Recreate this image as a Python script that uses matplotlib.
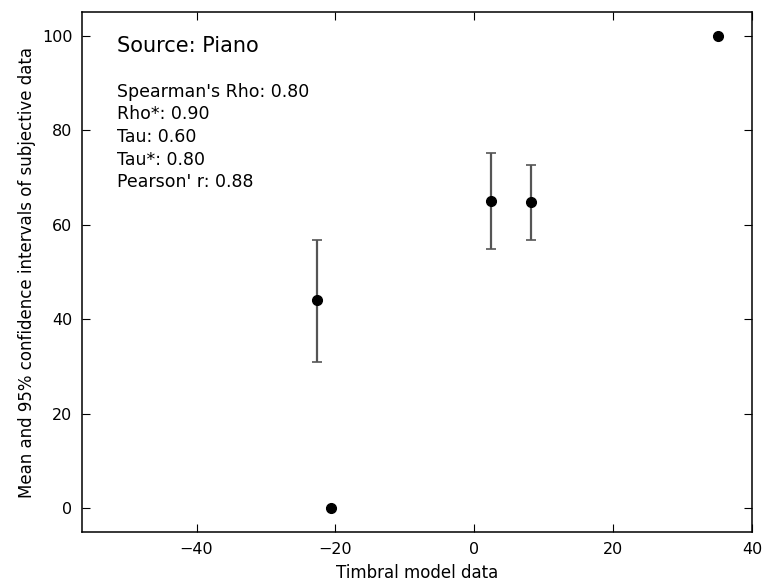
import matplotlib
matplotlib.use('Agg')
import matplotlib.pyplot as plt
import numpy as np

# timbral model data vs subjective means, with 95% CI bounds
model_x = [-22.6, -20.6, 2.4, 8.1, 35.1]
subj_mean = [44.0, 0.0, 65.1, 64.9, 100.0]
ci_low = [30.9, 0.0, 55.0, 56.9, 100.0]
ci_high = [56.9, 0.0, 75.2, 72.7, 100.0]

source = 'Source: Piano'
stats = ["Spearman's Rho: 0.80", "Rho*: 0.90", "Tau: 0.60", "Tau*: 0.80", "Pearson' r: 0.88"]

xticks = [-40, -20, 0, 20, 40]
yticks = [0, 20, 40, 60, 80, 100]

if __name__ == "__main__":

	fig = plt.figure(figsize=(7.62, 5.84), dpi=100)
	ax = fig.add_axes([0.1076, 0.089, 0.8794, 0.890])

	mean = np.array(subj_mean)
	yerr = [mean - np.array(ci_low), np.array(ci_high) - mean]

	# error bars first, then the black markers on top
	ax.errorbar(model_x, subj_mean, yerr=yerr, fmt='none', ecolor='#555555',
		elinewidth=1.6, capsize=3.5, capthick=1.2, zorder=2)
	ax.plot(model_x, subj_mean, 'o', color='black', markersize=7, zorder=3)

	ax.set_xlim(-56.5, 40)
	ax.set_ylim(-5, 105)
	ax.set_xticks(xticks)
	ax.set_yticks(yticks)
	ax.tick_params(direction='in', top=True, right=True, length=6, width=0.8,
		labelsize=11.5, pad=7)
	for s in ax.spines.values():
		s.set_linewidth(1.1)

	ax.set_xlabel('Timbral model data', fontsize=12, labelpad=5)
	ax.set_ylabel('Mean and 95% confidence intervals of subjective data', fontsize=12)

	# annotation block in upper left
	ax.text(-51.5, 97.9, source, fontsize=15, va='center', ha='left')
	y0 = 88.2
	for i, line in enumerate(stats):
		ax.text(-51.5, y0 - 4.8 * i, line, fontsize=12.5, va='center', ha='left')

	fig.savefig('out.png', dpi=100)
